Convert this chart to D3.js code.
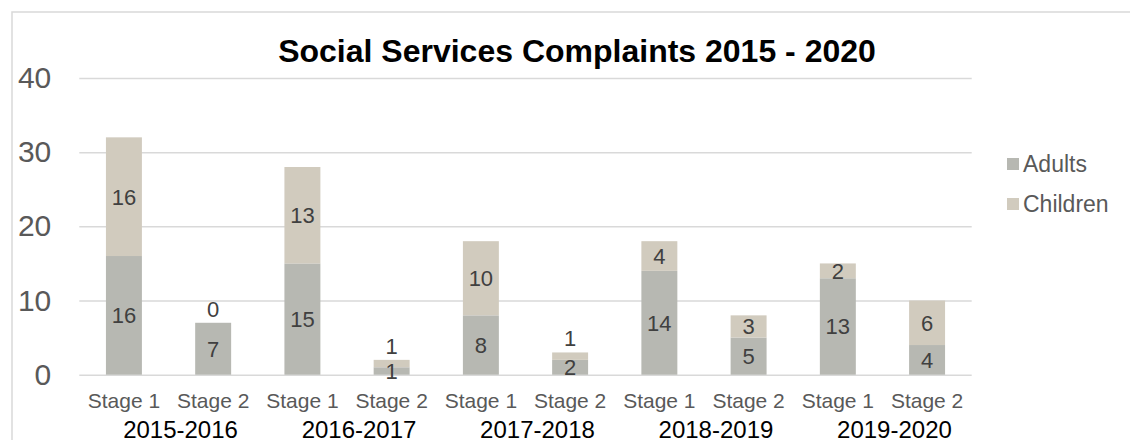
<!DOCTYPE html>
<html>
<head>
<meta charset="utf-8">
<script src="https://cdn.jsdelivr.net/npm/d3@7"></script>
<style>
  body { margin: 0; background: #fff; }
  svg { display: block; font-family: "Liberation Sans", Arial, sans-serif; }
</style>
</head>
<body>
<svg id="chart" width="1130" height="440"></svg>
<script>
// data
const years = ['2015-2016', '2016-2017', '2017-2018', '2018-2019', '2019-2020'];
const stages = ['Stage 1', 'Stage 2'];
const adults = [16, 7, 15, 1, 8, 2, 14, 5, 13, 4];
const children = [16, 0, 13, 1, 10, 1, 4, 3, 2, 6];
const yTicks = [0, 10, 20, 30, 40];
const seriesNames = ['Adults', 'Children'];

const colorOf = { Adults: '#b7b8b2', Children: '#d1cbbe' };

// one row per bar
const rows = [];
years.forEach((yr, i) => {
    stages.forEach((st, j) => {
        const k = i * stages.length + j;
        rows.push({ key: yr + '|' + st, year: yr, stage: st, Adults: adults[k], Children: children[k] });
    });
});

const svg = d3.select('#chart');
const plotLeft = 79.3, plotRight = 971.7;
const plotTop = 78, plotBottom = 374.7;

// frame (only top and left edges show in the picture)
svg.append('rect')
    .attr('x', 12).attr('y', 12)
    .attr('width', 1200).attr('height', 500)
    .attr('fill', 'none')
    .attr('stroke', '#d9d9d9')
    .attr('stroke-width', 1.5);

const x = d3.scaleBand()
    .domain(rows.map(d => d.key))
    .range([plotLeft, plotRight])
    .paddingInner(0.597)
    .paddingOuter(0.597 / 2);

const y = d3.scaleLinear()
    .domain([0, 40])
    .range([plotBottom, plotTop]);

// gridlines + y labels
const yAxis = svg.append('g')
    .attr('transform', 'translate(' + plotLeft + ',0)')
    .call(d3.axisLeft(y).tickValues(yTicks).tickSize(-(plotRight - plotLeft)).tickPadding(28));
yAxis.select('.domain').remove();
yAxis.selectAll('.tick line').attr('stroke', '#d9d9d9').attr('stroke-width', 1.5);
yAxis.selectAll('.tick text')
    .attr('fill', '#595959')
    .style('font-size', '30px')
    .style('font-family', '"Liberation Sans", Arial, sans-serif');

// stacked bars
const stack = d3.stack().keys(seriesNames);
const series = stack(rows);

const layer = svg.selectAll('.layer')
    .data(series)
    .enter()
    .append('g')
    .attr('class', 'layer')
    .attr('fill', d => colorOf[d.key]);

layer.selectAll('rect')
    .data(d => d)
    .enter()
    .append('rect')
    .attr('x', d => x(d.data.key))
    .attr('width', x.bandwidth())
    .attr('y', d => y(d[1]))
    .attr('height', d => y(d[0]) - y(d[1]));

// data labels
series.forEach(s => {
    svg.append('g').selectAll('text')
        .data(s)
        .enter()
        .append('text')
        .attr('x', d => x(d.data.key) + x.bandwidth() / 2)
        .attr('y', d => {
            const v = d[1] - d[0];
            if (s.key === 'Children' && v <= 1) {
                return y(d[1]) - 14; // tiny segment: label sits above the bar
            }
            return (y(d[0]) + y(d[1])) / 2;
        })
        .attr('dy', '0.36em')
        .attr('text-anchor', 'middle')
        .attr('fill', '#404040')
        .style('font-size', '22px')
        .text(d => d[1] - d[0]);
});

// stage labels
svg.append('g').selectAll('text')
    .data(rows)
    .enter()
    .append('text')
    .attr('x', d => x(d.key) + x.bandwidth() / 2)
    .attr('y', 408)
    .attr('text-anchor', 'middle')
    .attr('fill', '#595959')
    .style('font-size', '21px')
    .text(d => d.stage);

// year labels
const groupW = (plotRight - plotLeft) / years.length;
svg.append('g').selectAll('text')
    .data(years)
    .enter()
    .append('text')
    .attr('x', (d, i) => plotLeft + groupW * (i + 0.5) + 12)
    .attr('y', 438)
    .attr('text-anchor', 'middle')
    .attr('fill', '#000')
    .style('font-size', '24px')
    .text(d => d);

// title
svg.append('text')
    .attr('x', 577)
    .attr('y', 62)
    .attr('text-anchor', 'middle')
    .attr('fill', '#000')
    .style('font-size', '32px')
    .style('font-weight', 'bold')
    .text('Social Services Complaints 2015 - 2020');

// legend
const legend = svg.append('g').selectAll('g')
    .data(seriesNames)
    .enter()
    .append('g')
    .attr('transform', (d, i) => 'translate(1007,' + (164 + i * 40) + ')');

legend.append('rect')
    .attr('x', 0).attr('y', -6)
    .attr('width', 12).attr('height', 12)
    .attr('fill', d => colorOf[d]);

legend.append('text')
    .attr('x', 16)
    .attr('dy', '0.36em')
    .attr('fill', '#595959')
    .style('font-size', '23px')
    .text(d => d);
</script>
</body>
</html>
